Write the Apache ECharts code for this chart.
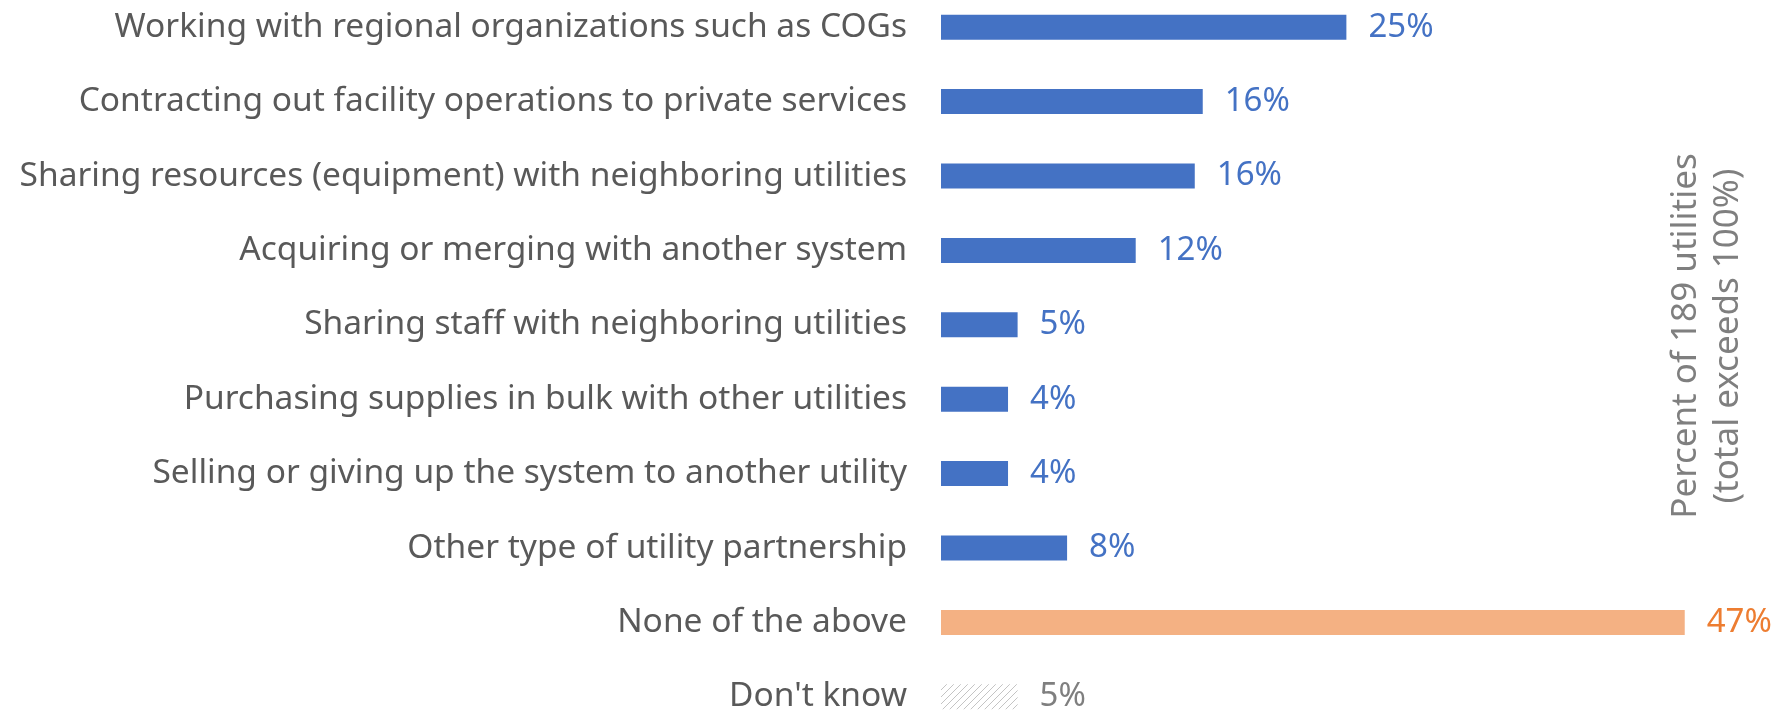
<!DOCTYPE html>
<html>
<head>
<meta charset="utf-8">
<script src="https://cdn.jsdelivr.net/npm/echarts@6/dist/echarts.min.js"></script>
<style>
  html, body { margin: 0; padding: 0; background: #fff; }
  #chart { width: 1771px; height: 712px; }
</style>
</head>
<body>
<div id="chart"></div>
<script>
// categories, top to bottom
const categories = [
  'Working with regional organizations such as COGs',
  'Contracting out facility operations to private services',
  'Sharing resources (equipment) with neighboring utilities',
  'Acquiring or merging with another system',
  'Sharing staff with neighboring utilities',
  'Purchasing supplies in bulk with other utilities',
  'Selling or giving up the system to another utility',
  'Other type of utility partnership',
  'None of the above',
  "Don't know"
];
// percent of 189 utilities
const values = [25.4, 16.4, 15.9, 12.2, 4.8, 4.2, 4.2, 7.9, 46.6, 4.8];
// which group each answer belongs to
const groups = ['partner', 'partner', 'partner', 'partner', 'partner',
  'partner', 'partner', 'partner', 'none', 'unknown'];
const axisTitle = 'Percent of 189 utilities\n(total exceeds 100%)';

// hatch fill for "Don't know"
function hatch() {
  const c = document.createElement('canvas');
  c.width = 7; c.height = 7;
  const ctx = c.getContext('2d');
  ctx.strokeStyle = '#c4c4c4';
  ctx.lineWidth = 1;
  ctx.beginPath();
  ctx.moveTo(0, 7); ctx.lineTo(7, 0);
  ctx.moveTo(-1, 1); ctx.lineTo(1, -1);
  ctx.moveTo(6, 8); ctx.lineTo(8, 6);
  ctx.stroke();
  return c;
}

const styles = {
  partner: { bar: '#4472c4', label: '#4472c4' },
  none: { bar: '#f4b183', label: '#ed7d31' },
  unknown: { bar: { image: hatch(), repeat: 'repeat' }, label: '#7f7f7f' }
};

const font = '"Noto Sans", "Open Sans", sans-serif';

let chart = echarts.init(document.getElementById('chart'));
chart.setOption({
  animation: false,
  grid: {
    left: 941,
    top: -10,
    width: 798,
    height: 744,
    outerBoundsMode: 'none'
  },
  xAxis: {
    type: 'value',
    min: 0,
    max: 50,
    show: false
  },
  yAxis: {
    type: 'category',
    inverse: true,
    data: categories,
    axisLine: { show: false },
    axisTick: { show: false },
    axisLabel: {
      margin: 34,
      color: '#595959',
      fontSize: 33.5,
      fontFamily: font
    }
  },
  series: [
    {
      type: 'bar',
      barWidth: 25,
      data: values.map((v, i) => ({
        value: v,
        itemStyle: { color: styles[groups[i]].bar },
        label: { color: styles[groups[i]].label }
      })),
      label: {
        show: true,
        position: 'right',
        distance: 22,
        fontSize: 33,
        fontFamily: font,
        formatter: p => Math.round(p.value) + '%'
      }
    }
  ],
  graphic: [
    {
      type: 'text',
      x: 1707,
      y: 336,
      rotation: Math.PI / 2,
      style: {
        text: axisTitle,
        align: 'center',
        verticalAlign: 'middle',
        fontSize: 35,
        lineHeight: 42,
        fontFamily: font,
        fill: '#7f7f7f'
      }
    }
  ]
});
</script>
</body>
</html>
